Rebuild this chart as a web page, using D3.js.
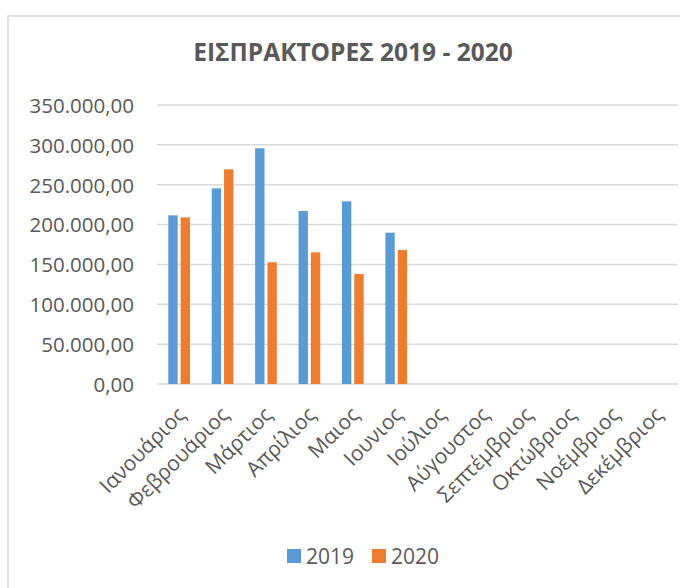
<!DOCTYPE html>
<html>
<head>
<meta charset="utf-8">
<script src="https://cdn.jsdelivr.net/npm/d3@7"></script>
<style>
  body { margin: 0; background: #fff; }
  text { font-family: "Open Sans", sans-serif; fill: #595959; }
</style>
</head>
<body>
<div id="chart"></div>
<script>
// data
var months = ["Ιανουάριος", "Φεβρουάριος", "Μάρτιος", "Απρίλιος", "Μαιος", "Ιουνιος",
  "Ιούλιος", "Αύγουστος", "Σεπτέμβριος", "Οκτώβριος", "Νοέμβριος", "Δεκέμβριος"];
var series = ["2019", "2020"];
var values2019 = [211600, 245500, 295700, 217000, 229200, 189800];
var values2020 = [209000, 269300, 152700, 165200, 138000, 168100];
var yTicks = [0, 50000, 100000, 150000, 200000, 250000, 300000, 350000];
var colors = ["#5b9bd5", "#ed7d31"];

var svgWidth = 680;
var svgHeight = 588;

var margin = { top: 105, right: 2, bottom: 204, left: 157 };
var width = svgWidth - margin.left - margin.right;
var height = svgHeight - margin.top - margin.bottom;

var svg = d3.select("#chart")
  .append("svg")
  .attr("width", svgWidth)
  .attr("height", svgHeight);

// chart frame (only left and top edges show in the crop)
svg.append("rect")
  .attr("x", 8)
  .attr("y", 16)
  .attr("width", 700)
  .attr("height", 620)
  .attr("fill", "none")
  .attr("stroke", "#d9d9d9")
  .attr("stroke-width", 1.5);

svg.append("text")
  .attr("x", 353)
  .attr("y", 61)
  .attr("text-anchor", "middle")
  .attr("font-size", "24.5px")
  .attr("font-weight", "bold")
  .text("ΕΙΣΠΡΑΚΤΟΡΕΣ 2019 - 2020");

var chartGroup = svg.append("g")
  .attr("transform", `translate(${margin.left}, ${margin.top})`);

var xScale = d3.scaleBand()
  .domain(months)
  .range([0, width]);

var xInner = d3.scaleBand()
  .domain(series)
  .range([xScale.bandwidth() * 0.26, xScale.bandwidth() * 0.76])
  .paddingInner(0.24);

var yScale = d3.scaleLinear()
  .domain([0, 350000])
  .range([height, 0]);

var fmt = function(v) {
  return d3.format(",.2f")(v).replace(/,/g, "#").replace(".", ",").replace(/#/g, ".");
};

// gridlines
chartGroup.append("g")
  .selectAll("line")
  .data(yTicks)
  .enter()
  .append("line")
  .attr("x1", 0)
  .attr("x2", width)
  .attr("y1", d => yScale(d))
  .attr("y2", d => yScale(d))
  .attr("stroke", "#d9d9d9")
  .attr("stroke-width", 1.5);

// y axis labels
var yAxis = d3.axisLeft(yScale).tickValues(yTicks).tickFormat(fmt).tickSize(0).tickPadding(23);
var yG = chartGroup.append("g").call(yAxis);
yG.select(".domain").remove();
yG.selectAll("text")
  .attr("font-size", "20.5px")
  .attr("font-family", "Open Sans, sans-serif")
  .attr("fill", "#595959")
  .attr("dy", "0.36em");

// bars
var rows = months.map(function(m, i) {
  return { month: m, vals: [values2019[i], values2020[i]] };
}).filter(d => d.vals[0] !== undefined);

var groups = chartGroup.selectAll(".month")
  .data(rows)
  .enter()
  .append("g")
  .attr("transform", d => `translate(${xScale(d.month)}, 0)`);

groups.selectAll("rect")
  .data(d => d.vals.map((v, j) => ({ key: series[j], value: v, color: colors[j] })))
  .enter()
  .append("rect")
  .attr("x", d => xInner(d.key))
  .attr("width", xInner.bandwidth())
  .attr("y", d => yScale(d.value))
  .attr("height", d => height - yScale(d.value))
  .attr("fill", d => d.color);

// x axis labels
var xAxis = d3.axisBottom(xScale).tickSize(0).tickPadding(0);
var xG = chartGroup.append("g")
  .attr("transform", `translate(0, ${height})`)
  .call(xAxis);
xG.select(".domain").remove();
xG.selectAll("text")
  .attr("font-size", "21px")
  .attr("font-family", "Open Sans, sans-serif")
  .attr("fill", "#595959")
  .attr("text-anchor", "end")
  .attr("dy", "0")
  .attr("y", 0)
  .attr("transform", "translate(8, 32) rotate(-45)");

// legend
var legend = svg.append("g")
  .attr("transform", "translate(287, 549)");
var legendItems = legend.selectAll("g")
  .data(series)
  .enter()
  .append("g")
  .attr("transform", (d, i) => `translate(${i * 85}, 0)`);
legendItems.append("rect")
  .attr("width", 14)
  .attr("height", 14)
  .attr("fill", (d, i) => colors[i]);
legendItems.append("text")
  .attr("x", 19)
  .attr("y", 14.5)
  .attr("font-size", "21px")
  .text(d => d);
</script>
</body>
</html>
